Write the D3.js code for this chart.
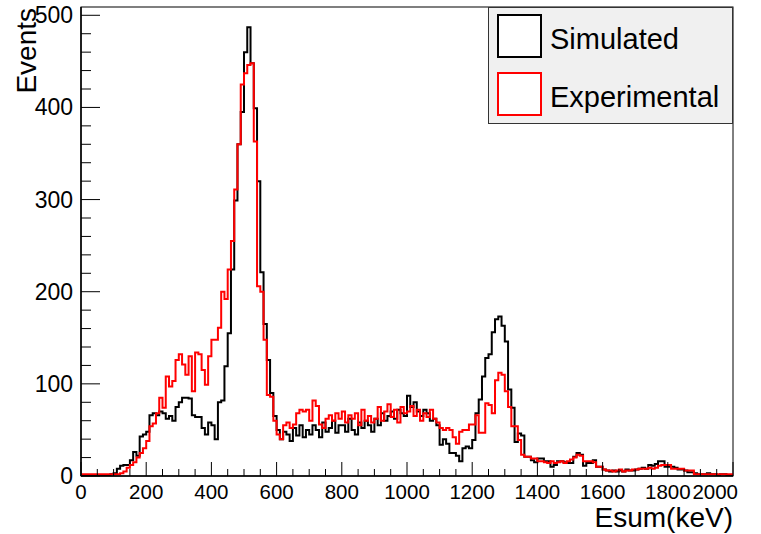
<!DOCTYPE html>
<html>
<head>
<meta charset="utf-8">
<script src="https://cdn.jsdelivr.net/npm/d3@7"></script>
<style>
html,body{margin:0;padding:0;background:#fff;}
svg{display:block;font-family:"Liberation Sans",Arial,Helvetica,sans-serif;}
</style>
</head>
<body>
<svg id="c" width="761" height="534"></svg>
<script>
// Bin layout: 200 bins of 10 keV from 0 to 2000 keV
const binStart = 0, binWidth = 10;
const seriesNames = ["Simulated", "Experimental"];
const seriesColors = ["#000000", "#ff0000"];

const simulated = [
  0,0,0,0,0,0,0,0,1,2,
  3,8,11,12,12,17,26,22,43,45,
  48,66,68,66,70,68,62,65,60,75,
  80,85,85,84,66,64,64,52,45,58,
  55,40,80,82,119,155,224,299,360,395,
  460,487,448,399,320,221,165,126,90,65,
  50,40,48,45,38,52,44,55,42,50,
  45,55,50,42,58,48,52,60,47,55,
  55,48,62,50,45,58,52,60,55,48,
  62,55,68,60,65,70,62,72,68,65,
  87,75,80,70,65,72,68,60,62,55,
  34,40,35,25,25,22,16,30,32,30,
  39,68,83,108,128,132,156,170,173,163,
  146,94,74,37,46,44,21,21,17,15,
  19,19,16,16,10,12,16,16,15,14,
  14,21,25,23,11,14,14,17,10,10,
  7,6,5,6,5,6,5,7,6,6,
  7,8,9,8,12,11,13,16,16,10,
  10,10,9,7,7,6,4,4,3,2,
  2,2,3,2,2,1,2,2,1,1
];

const experimental = [
  2,2,2,2,2,2,2,2,2,2,
  2,2,3,5,9,12,15,20,25,30,
  38,54,57,68,85,74,108,97,103,126,
  132,121,110,130,92,134,132,115,99,130,
  148,148,161,200,192,224,255,311,360,425,
  437,446,448,363,206,200,148,88,86,60,
  45,40,55,58,52,56,68,72,70,72,
  60,82,76,56,52,62,66,60,68,62,
  70,58,66,62,68,55,72,60,65,58,
  62,75,60,70,78,64,72,58,75,68,
  70,76,65,72,60,68,64,72,62,58,
  52,50,52,50,42,35,48,50,50,56,
  56,66,47,47,79,77,68,104,112,110,
  92,75,54,54,39,23,21,21,19,19,
  16,16,15,14,16,14,15,16,14,16,
  18,20,23,22,16,16,16,15,10,10,
  7,6,6,5,6,7,5,6,6,7,
  7,8,8,8,9,8,9,11,12,12,
  12,8,8,8,8,6,6,6,2,2,
  2,2,2,2,2,2,2,2,2,2
];

const xTicks = [0,200,400,600,800,1000,1200,1400,1600,1800,2000];
const yTicks = [0,100,200,300,400,500];
const xLabel = "Esum(keV)";
const yLabel = "Events";

const svg = d3.select("#c");
const L = 81, R = 733, T = 7, B = 476;
const x = d3.scaleLinear().domain([0, 2000]).range([L, R]);
const y = d3.scaleLinear().domain([0, 509]).range([B, T]);

// clip
svg.append("clipPath").attr("id","clip").append("rect")
  .attr("x", L).attr("y", T).attr("width", R-L).attr("height", B-T);

// frame top/right
svg.append("rect").attr("x", L).attr("y", T).attr("width", R-L).attr("height", B-T)
  .attr("fill","none").attr("stroke","#000").attr("stroke-width",1);

// histograms
function histLine(vals){
  const pts = vals.map((v,i)=>[binStart + i*binWidth, v]);
  pts.push([binStart + vals.length*binWidth, vals[vals.length-1]]);
  return d3.line().x(d=>x(d[0])).y(d=>y(d[1])).curve(d3.curveStepAfter)(pts);
}
const g = svg.append("g").attr("clip-path","url(#clip)");
[simulated, experimental].forEach((s,i)=>{
  g.append("path").attr("d", histLine(s)).attr("fill","none")
    .attr("stroke", seriesColors[i]).attr("stroke-width", 2);
});

// x axis ticks (inside)
const xMinor = d3.range(0, 2001, 50);
svg.append("g").selectAll("line").data(xMinor).join("line")
  .attr("x1", d=>x(d)).attr("x2", d=>x(d))
  .attr("y1", B).attr("y2", d=> B - (d % 200 === 0 ? 14 : 7))
  .attr("stroke","#000").attr("stroke-width",1);
// y axis ticks (inside)
const yMinor = d3.range(0, 501, 20);
svg.append("g").selectAll("line").data(yMinor).join("line")
  .attr("y1", d=>y(d)).attr("y2", d=>y(d))
  .attr("x1", L).attr("x2", d=> L + (d % 100 === 0 ? 19 : 10))
  .attr("stroke","#000").attr("stroke-width",1);

// axis lines
svg.append("line").attr("x1",L).attr("x2",R).attr("y1",B).attr("y2",B).attr("stroke","#000").attr("stroke-width",1.5);
svg.append("line").attr("x1",L).attr("x2",L).attr("y1",T).attr("y2",B).attr("stroke","#000").attr("stroke-width",1.5);

// tick labels (last label kept inside the pad, as ROOT does)
svg.append("g").selectAll("text").data(xTicks).join("text")
  .attr("x", (d,i)=> i === xTicks.length-1 ? 738 : x(d))
  .attr("y", 499)
  .attr("text-anchor", (d,i)=> i === xTicks.length-1 ? "end" : "middle")
  .attr("font-size", 20.5).attr("fill","#000").text(d=>d);
svg.append("g").selectAll("text").data(yTicks).join("text")
  .attr("x", 73).attr("y", d=>y(d)+8).attr("text-anchor","end")
  .attr("font-size", 23).attr("fill","#000").text(d=>d);

// axis titles
svg.append("text").attr("x", R).attr("y", 527).attr("text-anchor","end")
  .attr("font-size", 28).attr("fill","#000").text(xLabel);
svg.append("text").attr("transform","translate(36,8) rotate(-90)")
  .attr("text-anchor","end").attr("font-size", 28).attr("fill","#000").text(yLabel);

// legend
const lg = svg.append("g");
lg.append("rect").attr("x",488.5).attr("y",7.5).attr("width",244).attr("height",116)
  .attr("fill","#f0f0f0").attr("stroke","#333").attr("stroke-width",1);
seriesNames.forEach((n,i)=>{
  const yy = 15 + i*58;
  lg.append("rect").attr("x",498).attr("y",yy).attr("width",43).attr("height",42)
    .attr("fill","#fff").attr("stroke",seriesColors[i]).attr("stroke-width",2);
  lg.append("text").attr("x",550).attr("y", 49 + i*58).attr("font-size",29)
    .attr("fill","#000").text(n);
});
</script>
</body>
</html>
